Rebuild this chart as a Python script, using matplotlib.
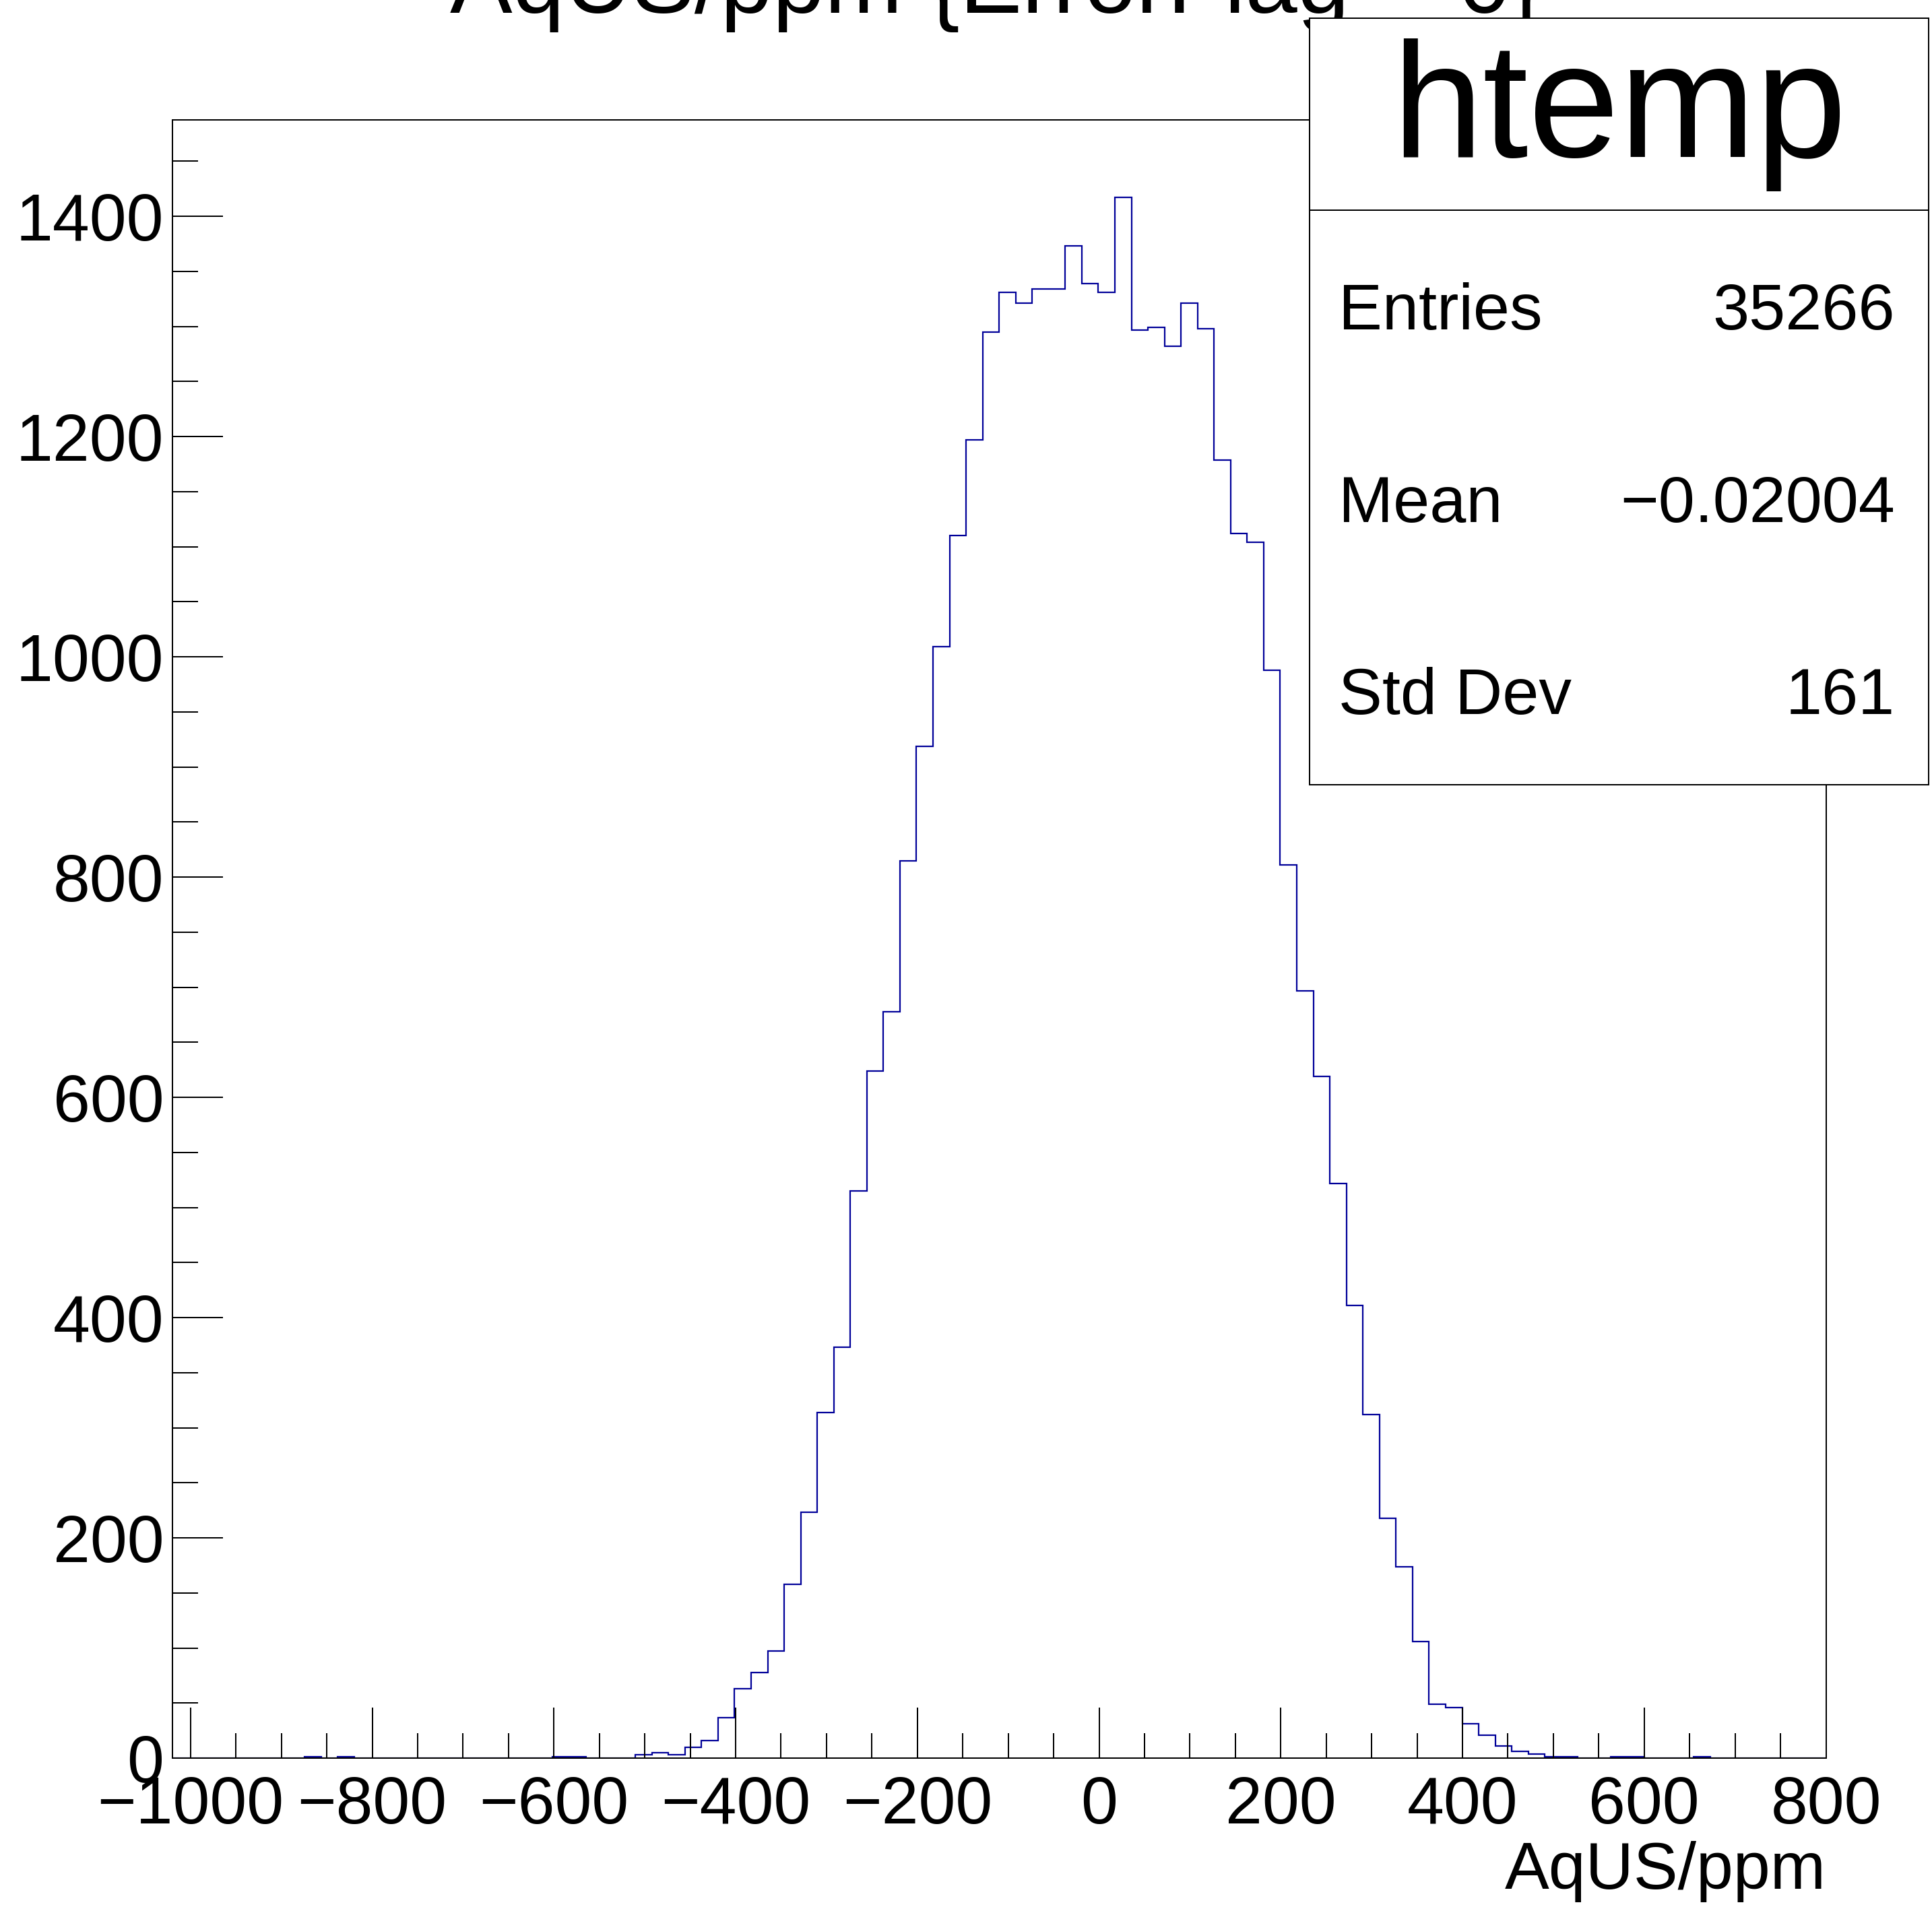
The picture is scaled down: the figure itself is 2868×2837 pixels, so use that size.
import numpy as np
import matplotlib
matplotlib.use('Agg')
import matplotlib.pyplot as plt
from matplotlib.ticker import MultipleLocator
from matplotlib.patches import Rectangle
from matplotlib.lines import Line2D

plt.rcParams['font.family'] = ['Liberation Sans', 'DejaVu Sans']
plt.rcParams['axes.unicode_minus'] = True

# ---- data ----
x_min, x_max, n_bins = -1020.0, 800.0, 100
counts = [
    0, 0, 0, 0, 0, 0, 0, 0, 1, 0,
    1, 0, 0, 0, 0, 0, 0, 0, 0, 0,
    0, 0, 0, 1, 1, 0, 0, 0, 3, 5,
    3, 10, 16, 37, 63, 78, 97, 158, 223, 314,
    373, 515, 624, 678, 815, 919, 1009, 1110, 1197, 1295,
    1331, 1321, 1334, 1334, 1373, 1339, 1331, 1417, 1297, 1299,
    1282, 1321, 1298, 1179, 1112, 1104, 988, 811, 697, 619,
    522, 411, 312, 218, 174, 106, 49, 46, 31, 21,
    11, 6, 4, 1, 1, 0, 0, 1, 1, 0,
    0, 0, 1, 0, 0, 0, 0, 0, 0, 0,
]
title = "AqUS/ppm {ErrorFlag==0}"
x_label = "AqUS/ppm"
hist_name = "htemp"
stat_names = ["Entries", "Mean", "Std Dev"]
stat_values = ["35266", "\u22120.02004", "161"]

# ---- figure ----
W, H, DPI = 2868, 2837, 100
fig = plt.figure(figsize=(W / DPI, H / DPI), dpi=DPI)
fig.patch.set_facecolor('white')

ax = fig.add_axes([0.0892, 0.0800, 0.8559, 0.8574])
edges = np.linspace(x_min, x_max, n_bins + 1)
ax.stairs(counts, edges, color='#000099', linewidth=1.6, baseline=0)

ax.set_xlim(x_min, x_max)
ax.set_ylim(0, 1.05 * max(counts))

ax.xaxis.set_major_locator(MultipleLocator(200))
ax.xaxis.set_minor_locator(MultipleLocator(50))
ax.yaxis.set_major_locator(MultipleLocator(200))
ax.yaxis.set_minor_locator(MultipleLocator(50))

for s in ax.spines.values():
    s.set_linewidth(1.44)
ax.tick_params(which='both', direction='in', top=False, right=False, width=1.44)
ax.tick_params(which='major', length=54, labelsize=71)
ax.tick_params(which='minor', length=27)
ax.tick_params(axis='x', which='major', pad=19)
ax.tick_params(axis='y', which='major', pad=9)

# axis title
fig.text(0.9451, 0.0116, x_label, ha='right', va='baseline', fontsize=71)

# histogram title (clipped at top as in reference)
fig.text(0.5153, 0.9932, title, ha='center', va='baseline', fontsize=100)

# stats box
bx0, by0, bx1, by1 = 0.6778, 0.5894, 0.9983, 0.9906
fig.add_artist(Rectangle((bx0, by0), bx1 - bx0, by1 - by0, transform=fig.transFigure,
                         facecolor='white', edgecolor='black', linewidth=1.44, zorder=5))
fig.add_artist(Line2D([bx0, bx1], [0.8901, 0.8901], transform=fig.transFigure,
                      color='black', linewidth=1.44, zorder=6))
fig.text((bx0 + bx1) / 2, 0.9178, hist_name, ha='center', va='baseline', fontsize=175, zorder=7)
baselines = [0.8276, 0.7269, 0.6264]
for name, val, yb in zip(stat_names, stat_values, baselines):
    fig.text(0.6928, yb, name, ha='left', va='baseline', fontsize=70, zorder=7)
    fig.text(0.9808, yb, val, ha='right', va='baseline', fontsize=70, zorder=7)

fig.savefig('out.png', dpi=DPI, facecolor='white')
